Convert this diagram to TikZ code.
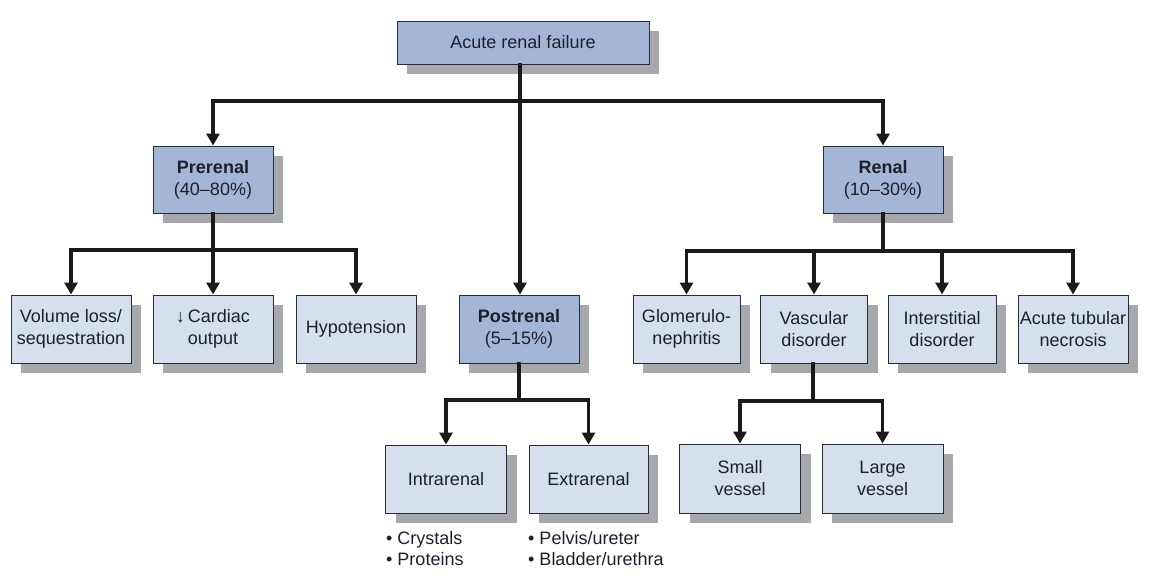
\documentclass[tikz,border=0pt]{standalone}
\usepackage{fontspec}
\setmainfont{Liberation Sans}
\usetikzlibrary{arrows.meta,shadows,calc}
\definecolor{darkfill}{RGB}{164,182,214}
\definecolor{lightfill}{RGB}{214,223,237}
\definecolor{shadowgray}{RGB}{167,168,172}
\definecolor{edgecol}{RGB}{40,44,56}
\definecolor{txtcol}{RGB}{28,32,44}
\definecolor{linecol}{RGB}{26,26,26}
\begin{document}
\begin{tikzpicture}[x=1pt,y=-1pt,
  every node/.style={font=\fontsize{18}{22}\selectfont, text=txtcol},
  boxbase/.style={rectangle, draw=edgecol, line width=1pt, align=center, inner sep=0pt,
     general shadow={fill=shadowgray, shadow xshift=10pt, shadow yshift=-10pt}},
  mainbox/.style={boxbase, fill=darkfill},
  leafbox/.style={boxbase, fill=lightfill},
  conn/.style={draw=linecol, line width=3.5pt, line cap=rect, line join=miter},
  arr/.style={conn, -{Triangle[width=13pt,length=12pt]}},
  bullet/.style={anchor=base west, inner sep=0pt}
]
\useasboundingbox (0,0) rectangle (1166,584);

% level 0
\node[mainbox, minimum width=252pt, minimum height=43pt] (top) at (523,42.5) {Acute renal failure};

% level 1
\node[mainbox, minimum width=120pt, minimum height=67pt] (pre) at (213,179.5) {\textbf{Prerenal}\\(40–80\%)};
\node[mainbox, minimum width=120pt, minimum height=67pt] (ren) at (883,179.5) {\textbf{Renal}\\(10–30\%)};
\node[mainbox, minimum width=120pt, minimum height=68pt] (post) at (519,329) {\textbf{Postrenal}\\(5–15\%)};

% prerenal children
\node[leafbox, minimum width=120pt, minimum height=68pt] (vol) at (71,329) {Volume loss/\\sequestration};
\node[leafbox, minimum width=120pt, minimum height=68pt] (card) at (213,329) {↓\,Cardiac\\output};
\node[leafbox, minimum width=120pt, minimum height=68pt] (hypo) at (356,329) {Hypotension};

% renal children
\node[leafbox, minimum width=107pt, minimum height=68pt] (glom) at (686.5,329) {Glomerulo-\\nephritis};
\node[leafbox, minimum width=107pt, minimum height=68pt] (vasc) at (814,329) {Vascular\\disorder};
\node[leafbox, minimum width=108pt, minimum height=68pt] (inter) at (942,329) {Interstitial\\disorder};
\node[leafbox, minimum width=110pt, minimum height=68pt] (atn) at (1073,329) {Acute tubular\\necrosis};

% vascular children
\node[leafbox, minimum width=121pt, minimum height=69pt] (small) at (740,478.5) {Small\\vessel};
\node[leafbox, minimum width=121pt, minimum height=69pt] (large) at (882.5,478.5) {Large\\vessel};

% postrenal children
\node[leafbox, minimum width=121pt, minimum height=68pt] (intra) at (446,479) {Intrarenal};
\node[leafbox, minimum width=119pt, minimum height=68pt] (extra) at (588.5,479) {Extrarenal};

% bullet lists
\node[bullet] (b1) at (386,544) {• Crystals};
\node[bullet] (b2) at (386,565) {• Proteins};
\node[bullet] (b3) at (528,544) {• Pelvis/ureter};
\node[bullet] (b4) at (528,565) {• Bladder/urethra};

% junctions
\coordinate (jt) at (520,101);
\coordinate (jpre) at (213,250);
\coordinate (jren) at (883,251);
\coordinate (jpost) at (519,400);
\coordinate (jvasc) at (813,401);

% connectors
\draw[conn] (jt |- top.south) -- (jt);
\draw[arr] (jt) -| (pre.north);
\draw[arr] (jt) -| (ren.north);
\draw[arr] (jt) -- (jt |- post.north);

\draw[conn] (pre.south) -- (jpre);
\draw[arr] (jpre) -| (vol.north);
\draw[arr] (jpre) -- (card.north);
\draw[arr] (jpre) -| (hypo.north);

\draw[conn] (ren.south) -- (jren);
\draw[arr] (jren) -| (glom.north);
\draw[arr] (jren) -| (vasc.north);
\draw[arr] (jren) -| (inter.north);
\draw[arr] (jren) -| (atn.north);

\draw[conn] (post.south) -- (jpost);
\draw[arr] (jpost) -| (intra.north);
\draw[arr] (jpost) -| (extra.north);

\draw[conn] (jvasc |- vasc.south) -- (jvasc);
\draw[arr] (jvasc) -| (small.north);
\draw[arr] (jvasc) -| (large.north);
\end{tikzpicture}
\end{document}
